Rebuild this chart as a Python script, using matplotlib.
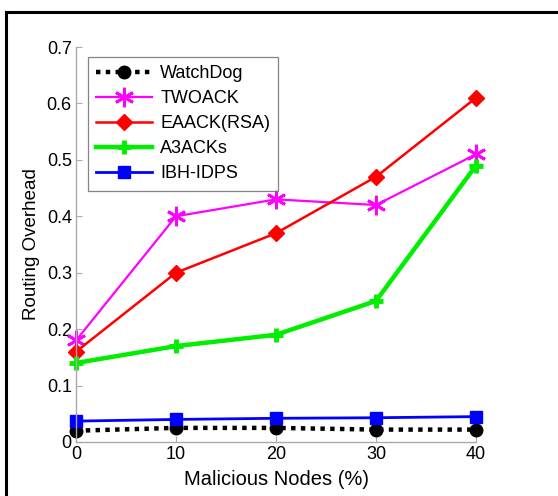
import matplotlib.pyplot as plt
from matplotlib.patches import Rectangle

x_vals = [0, 10, 20, 30, 40]
watchdog = [0.020, 0.025, 0.025, 0.022, 0.022]
twoack = [0.18, 0.40, 0.43, 0.42, 0.51]
eaack = [0.16, 0.30, 0.37, 0.47, 0.61]
a3acks = [0.14, 0.17, 0.19, 0.25, 0.49]
ibh_idps = [0.037, 0.040, 0.042, 0.043, 0.045]

x_ticks = [0, 10, 20, 30, 40]
y_ticks = [0, 0.1, 0.2, 0.3, 0.4, 0.5, 0.6, 0.7]
y_tick_labels = ["0", "0.1", "0.2", "0.3", "0.4", "0.5", "0.6", "0.7"]

plt.rcParams["font.family"] = ["Liberation Sans", "DejaVu Sans"]

fig = plt.figure(figsize=(5.58, 4.96), dpi=100)
fig.patch.set_facecolor("white")
# outer black frame (cut off at right and bottom)
fig.patches.append(Rectangle((6 / 558, -0.05), 1.2, 1 - 12 / 496 + 0.05,
                             transform=fig.transFigure, fill=False,
                             edgecolor="black", linewidth=2.2, zorder=0))

ax = fig.add_axes([76 / 558, 54 / 496, 400 / 558, 395 / 496])

star = (6, 2, 0)
ax.plot(x_vals, watchdog, color="black", linestyle=(0, (1, 1.2)), linewidth=3.2,
        marker="o", markersize=9, label="WatchDog")
ax.plot(x_vals, twoack, color="#ff00ff", linewidth=1.6,
        marker=star, markersize=14, markeredgewidth=2.0, label="TWOACK")
ax.plot(x_vals, eaack, color="#ff0000", linewidth=1.8,
        marker="D", markersize=8.5, label="EAACK(RSA)")
ax.plot(x_vals, a3acks, color="#00ee00", linewidth=3.2,
        marker="+", markersize=10, markeredgewidth=3.5, label="A3ACKs")
ax.plot(x_vals, ibh_idps, color="#0000ff", linewidth=2.0,
        marker="s", markersize=8.5, label="IBH-IDPS")

ax.set_xlim(0, 40)
ax.set_ylim(0, 0.7)
ax.set_xticks(x_ticks)
ax.set_yticks(y_ticks)
ax.set_yticklabels(y_tick_labels)
ax.tick_params(direction="in", length=4, color="#aaaaaa", labelsize=13, pad=3)
for side in ["top", "right"]:
    ax.spines[side].set_visible(False)
for side in ["left", "bottom"]:
    ax.spines[side].set_color("#aaaaaa")
    ax.spines[side].set_linewidth(1.0)
for line in ax.lines:
    line.set_clip_on(False)

ax.set_xlabel("Malicious Nodes (%)", fontsize=14.5, labelpad=5)
ax.set_ylabel("Routing Overhead", fontsize=13.5, labelpad=5)

leg = ax.legend(loc="upper left", bbox_to_anchor=(0.03, 0.975),
                fontsize=13, frameon=True, fancybox=False, handlelength=3.1,
                handletextpad=0.45, labelspacing=0.45, borderpad=0.45,
                borderaxespad=0)
leg.get_frame().set_edgecolor("#666666")
leg.get_frame().set_linewidth(0.9)

fig.savefig("out.png", dpi=100, facecolor="white")
